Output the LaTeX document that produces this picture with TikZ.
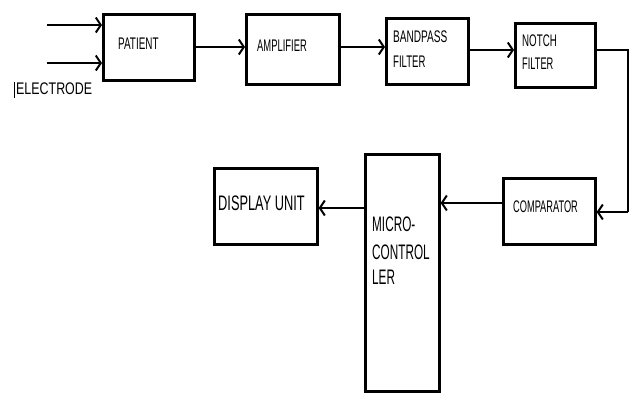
\documentclass[tikz,border=0pt]{standalone}
\usepackage{fontspec}
\setmainfont{Liberation Sans}
\usepackage{graphicx}
\usetikzlibrary{arrows.meta}
\newcommand{\sq}[2]{\scalebox{#1}[1]{#2}}
\begin{document}
\begin{tikzpicture}[x=1pt,y=-1pt,
  blk/.style={draw,line width=2.6pt,anchor=north west,inner sep=0pt,minimum width=#1},
  lbl/.style={anchor=base west,inner sep=0pt,font=\fontsize{16.8}{20}\selectfont},
  biglbl/.style={anchor=base west,inner sep=0pt,font=\fontsize{21}{24}\selectfont},
  arr/.style={line width=2.4pt,-{Straight Barb[length=5pt,width=15pt,line width=2pt]}},
  wire/.style={line width=2.4pt}]
\useasboundingbox (0,0) rectangle (632,394);
% boxes
\node[blk=91pt,minimum height=66pt] (patient) at (102,13) {};
\node[blk=93pt,minimum height=70pt] (amp) at (245,13) {};
\node[blk=82pt,minimum height=66pt] (band) at (385,17) {};
\node[blk=80pt,minimum height=64pt] (notch) at (514,22) {};
\node[blk=92pt,minimum height=66pt] (comp) at (502,177) {};
\node[blk=74pt,minimum height=237pt] (micro) at (364,153) {};
\node[blk=103pt,minimum height=76pt] (disp) at (213,167) {};
% labels
\node[lbl] (tpat) at (118,49) {\sq{0.59}{PATIENT}};
\node[lbl] (tamp) at (257,51) {\sq{0.56}{AMPLIFIER}};
\node[lbl] (tband1) at (393,42) {\sq{0.6}{BANDPASS}};
\node[lbl] (tband2) at (393,67) {\sq{0.57}{FILTER}};
\node[lbl] (tnotch1) at (522,46) {\sq{0.58}{NOTCH}};
\node[lbl] (tnotch2) at (522,69) {\sq{0.55}{FILTER}};
\node[lbl] (tcomp) at (513,212) {\sq{0.55}{COMPARATOR}};
\node[lbl] (telec) at (16,94) {\sq{0.74}{ELECTRODE}};
\node[biglbl] (tdisp) at (218,210) {\sq{0.61}{DISPLAY UNIT}};
\node[biglbl] (tmic1) at (372,231) {\sq{0.56}{MICRO-}};
\node[biglbl] (tmic2) at (372,259) {\sq{0.56}{CONTROL}};
\node[biglbl] (tmic3) at (372,284) {\sq{0.56}{LER}};
% cursor mark
\draw[line width=0.8pt] (14,82) -- (14,98);
% inputs
\coordinate (in1) at (47,25);
\coordinate (in2) at (47,63);
\draw[arr] (in1) -- (in1 -| patient.west);
\draw[arr] (in2) -- (in2 -| patient.west);
% chain
\draw[arr] (patient.east |- 0,47) -- (amp.west |- 0,47);
\draw[arr] (amp.east |- 0,47) -- (band.west |- 0,47);
\draw[arr] (band.east |- 0,50) -- (notch.west |- 0,50);
\coordinate (c1) at (628,50);
\coordinate (c2) at (628,212);
\draw[wire] (notch.east |- c1) -- (c1) -- (c2);
\draw[arr] (c2) -- (comp.east |- c2);
\draw[arr] (comp.west |- 0,203) -- (micro.east |- 0,203);
\draw[arr] (micro.west |- 0,208) -- (disp.east |- 0,208);
\end{tikzpicture}
\end{document}
